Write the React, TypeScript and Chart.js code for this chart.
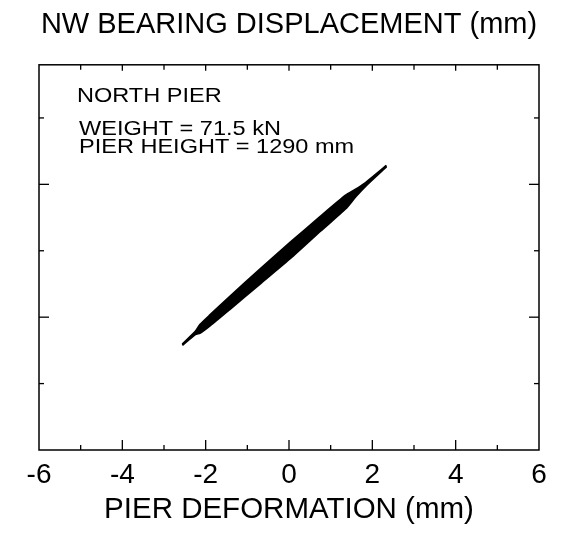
import React, { useEffect, useRef } from "react";
import { Chart, registerables } from "chart.js";

Chart.register(...registerables);

const FONT = "'Liberation Sans', Arial, Helvetica, sans-serif";

const chartTitle = "NW BEARING DISPLACEMENT (mm)";
const xAxisTitle = "PIER DEFORMATION (mm)";
const noteLines = ["NORTH PIER", "WEIGHT = 71.5 kN", "PIER HEIGHT = 1290 mm"];

const xMin = -6;
const xMax = 6;
const yMin = -6;
const yMax = 5.6;
const xMajorTicks = [-4, -2, 0, 2, 4];
const xMinorTicks = [-5, -3, -1, 1, 3, 5];
const yMajorTicks = [-2, 2];
const yMinorTicks = [-4, 0, 4];

// hysteresis band: x positions, upper and lower edges
const bandX = [-2.56, -2.25, -2.13, -1.89, -1.41, -0.69, 0.04, 0.76, 1.36, 1.6, 1.84, 2.34];
const bandUpperY = [-2.815, -2.44, -2.22, -1.93, -1.37, -0.55, 0.26, 1.04, 1.67, 1.85, 2.05, 2.565];
const bandLowerY = [-2.845, -2.52, -2.47, -2.25, -1.75, -0.99, -0.22, 0.6, 1.27, 1.63, 1.95, 2.535];

const framePlugin = {
  id: "frameTicksNotes",
  afterDraw(chart: any) {
    const { ctx, chartArea } = chart;
    const { left, right, top, bottom } = chartArea;
    const xs = chart.scales.x;
    const ys = chart.scales.y;
    ctx.save();
    ctx.strokeStyle = "#000";
    ctx.lineWidth = 1.5;
    ctx.strokeRect(left, top, right - left, bottom - top);
    ctx.lineWidth = 1.3;
    const line = (x1: number, y1: number, x2: number, y2: number) => {
      ctx.beginPath();
      ctx.moveTo(x1, y1);
      ctx.lineTo(x2, y2);
      ctx.stroke();
    };
    xMajorTicks.forEach((v) => {
      const p = xs.getPixelForValue(v);
      line(p, bottom, p, bottom - 10);
      line(p, top, p, top + 6);
    });
    xMinorTicks.forEach((v) => {
      const p = xs.getPixelForValue(v);
      line(p, bottom, p, bottom - 5);
      line(p, top, p, top + 5);
    });
    yMajorTicks.forEach((v) => {
      const p = ys.getPixelForValue(v);
      line(left, p, left + 10, p);
      line(right, p, right - 10, p);
    });
    yMinorTicks.forEach((v) => {
      const p = ys.getPixelForValue(v);
      line(left, p, left + 5, p);
      line(right, p, right - 5, p);
    });
    ctx.fillStyle = "#000";
    ctx.textBaseline = "alphabetic";
    ctx.textAlign = "left";
    ctx.font = `21px ${FONT}`;
    const note = (t: string, x: number, y: number) => {
      ctx.save();
      ctx.translate(x, y);
      ctx.scale(1.12, 1);
      ctx.fillText(t, 0, 0);
      ctx.restore();
    };
    note(noteLines[0], left + 38, top + 37);
    note(noteLines[1], left + 40, top + 70);
    note(noteLines[2], left + 40, top + 88);
    ctx.restore();
  },
};

export default function App() {
  const ref = useRef<HTMLCanvasElement | null>(null);
  useEffect(() => {
    if (!ref.current) return;
    const upper = bandX.map((x, i) => ({ x, y: bandUpperY[i] }));
    const lower = bandX.map((x, i) => ({ x, y: bandLowerY[i] }));
    const chart = new Chart(ref.current, {
      type: "line",
      data: {
        datasets: [
          {
            data: upper,
            borderColor: "#000",
            borderWidth: 2,
            pointRadius: 0,
            fill: false,
            tension: 0.2,
          },
          {
            data: lower,
            borderColor: "#000",
            borderWidth: 2,
            pointRadius: 0,
            fill: "-1",
            backgroundColor: "#000",
            tension: 0.2,
          },
        ],
      },
      options: {
        animation: false,
        responsive: false,
        devicePixelRatio: 1,
        layout: { padding: { left: 39, right: 30, top: 0, bottom: 0 } },
        plugins: {
          legend: { display: false },
          tooltip: { enabled: false },
          title: {
            display: true,
            text: chartTitle,
            color: "#000",
            fullSize: false,
            font: { size: 29, family: FONT, weight: "normal", lineHeight: 1.2 },
            padding: { top: 8, bottom: 22 },
          },
        },
        scales: {
          x: {
            type: "linear",
            min: xMin,
            max: xMax,
            ticks: {
              stepSize: 2,
              color: "#000",
              font: { size: 28, family: FONT },
              padding: 8,
              maxRotation: 0,
            },
            grid: { display: false, drawTicks: false },
            border: { display: false },
            title: {
              display: true,
              text: xAxisTitle,
              color: "#000",
              font: { size: 29.5, family: FONT, lineHeight: 1.2 },
              padding: { top: 0, bottom: 12 },
            },
            afterFit: (s: any) => {
              s.height = 90;
            },
          },
          y: {
            type: "linear",
            min: yMin,
            max: yMax,
            display: false,
          },
        },
      },
      plugins: [framePlugin],
    });
    return () => chart.destroy();
  }, []);
  return (
    <div style={{ position: "fixed", left: 0, top: 0, width: 569, height: 540, background: "#fff" }}>
      <canvas ref={ref} width={569} height={540} />
    </div>
  );
}
